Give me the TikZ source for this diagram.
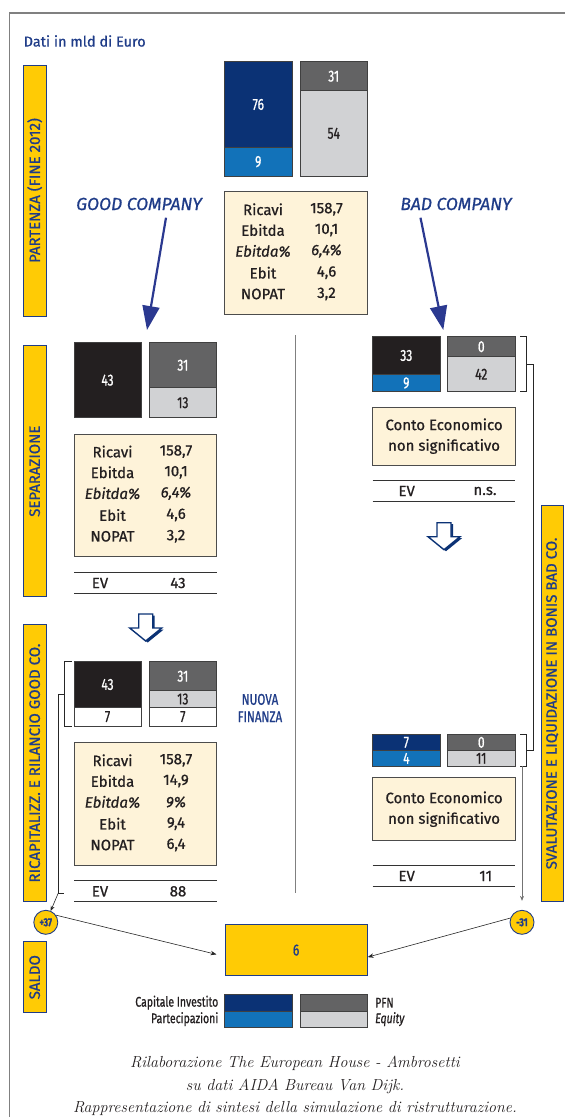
\documentclass[tikz,border=0pt]{standalone}
\usepackage{fontspec}
\setsansfont[FakeBold=0.8]{Fira Sans}
\newfontfamily\condfont[FakeStretch=0.75,FakeBold=0.8]{Fira Sans}
\usetikzlibrary{arrows.meta,positioning}

\definecolor{capinv}{RGB}{11,50,117}
\definecolor{partec}{RGB}{18,114,185}
\definecolor{pfngray}{RGB}{99,99,100}
\definecolor{eqgray}{RGB}{209,210,212}
\definecolor{boxblack}{RGB}{35,31,32}
\definecolor{cream}{RGB}{254,243,217}
\definecolor{phaseyel}{RGB}{255,203,5}
\definecolor{txtblue}{RGB}{31,60,136}
\definecolor{arrblue}{RGB}{43,57,144}
\definecolor{framegray}{RGB}{128,128,128}

\tikzset{
  seg/.style={draw=black!75, line width=0.7pt, inner sep=0pt, outer sep=0pt, anchor=north west,
    text=white, font=\condfont\fontsize{16}{16}\selectfont},
  capbar/.style={seg, fill=capinv},
  partbar/.style={seg, fill=partec},
  pfnbar/.style={seg, fill=pfngray},
  eqbar/.style={seg, fill=eqgray, text=boxblack},
  blackbar/.style={seg, fill=boxblack},
  newbar/.style={seg, fill=white, text=boxblack},
  kpibox/.style={draw=black!70, line width=0.8pt, fill=cream, inner sep=0pt, outer sep=0pt,
    anchor=north west, minimum width=142.7pt},
  kpi/.style={inner sep=0pt, text=boxblack, font=\sffamily\fontsize{15}{16}\selectfont},
  evline/.style={draw=black!80, line width=0.8pt},
  phase/.style={draw=txtblue, line width=0.8pt, fill=phaseyel, rotate=90, inner sep=0pt,
    minimum height=22.5pt, text=txtblue, font=\sffamily\fontsize{15}{15}\selectfont},
  heading/.style={inner sep=0pt, text=txtblue, font=\sffamily\itshape\fontsize{17.5}{17}\selectfont},
  bigarr/.style={arrblue, line width=2.2pt, -{Triangle[length=24pt,width=17pt]}},
  hollowarr/.style={draw=capinv, fill=white, line width=1.4pt, line join=miter},
  lead/.style={draw=black!85, line width=0.6pt},
  saldoball/.style={circle, draw=txtblue, line width=0.9pt, fill=phaseyel, minimum size=24pt, inner sep=0pt,
    text=txtblue, font=\condfont\bfseries\fontsize{11.5}{11}\selectfont},
  legtxt/.style={inner sep=0pt, text=boxblack, font=\condfont\fontsize{14}{14}\selectfont}
}

\newcommand{\kpitable}[7]{%
  \node[kpibox, minimum height=122.5pt] (#1) at (#2) {};
  \node[kpi] (#1r1) at ([shift={(38.5,17.6)}]#1.north west) {Ricavi};
  \node[kpi] (#1r2) at ([shift={(38.5,38.3)}]#1.north west) {Ebitda};
  \node[kpi] (#1r3) at ([shift={(38.5,59.3)}]#1.north west) {\itshape Ebitda\%};
  \node[kpi] (#1r4) at ([shift={(38.5,81)}]#1.north west) {Ebit};
  \node[kpi] (#1r5) at ([shift={(38.5,102.3)}]#1.north west) {NOPAT};
  \node[kpi] (#1v1) at ([shift={(102,17.6)}]#1.north west) {#3};
  \node[kpi] (#1v2) at ([shift={(102,38.3)}]#1.north west) {#4};
  \node[kpi] (#1v3) at ([shift={(102,59.3)}]#1.north west) {\itshape #5};
  \node[kpi] (#1v4) at ([shift={(102,81)}]#1.north west) {#6};
  \node[kpi] (#1v5) at ([shift={(102,102.3)}]#1.north west) {#7};
}

\newcommand{\downblock}[1]{%
  \fill[capinv, shift={(#1)}, xshift=2pt, yshift=-1.5pt] (-7,0) -- (7,0) -- (7,14) -- (16,14) -- (0,27) -- (-16,14) -- (-7,14) -- cycle;
  \draw[hollowarr, shift={(#1)}] (-7,0) -- (7,0) -- (7,14) -- (16,14) -- (0,27) -- (-16,14) -- (-7,14) -- cycle;
}

\begin{document}
\begin{tikzpicture}[x=1pt,y=-1pt]
\useasboundingbox (0,0) rectangle (565,1117);

\draw[framegray, line width=1.2pt] (565,13) -- (9.7,13) -- (9.7,1117);
\node[anchor=west, inner sep=0pt, text=txtblue, font=\sffamily\fontsize{14.5}{15}\selectfont] (unit) at (23.5,41) {Dati in mld di Euro};

\node[phase, minimum width=251pt] (ph1) at (34.7,190.5) {PARTENZA (FINE 2012)};
\node[phase, minimum width=251pt] (ph2) at (34.7,471.2) {SEPARAZIONE};
\node[phase, minimum width=277.4pt] (ph3) at (34.7,763) {RICAPITALIZZ. E RILANCIO GOOD CO.};
\node[phase, minimum width=71pt] (ph4) at (34.7,977.2) {SALDO};
\node[phase, minimum width=396.7pt] (ph5) at (552.2,703.4) {SVALUTAZIONE E LIQUIDAZIONE IN BONIS BAD CO.};

\node[capbar, minimum width=67.5pt, minimum height=85.6pt] (t76) at (224.5,61.7) {76};
\node[partbar, minimum width=67.5pt, minimum height=28.7pt] (t9) at (t76.south west) {9};
\node[pfnbar, minimum width=67.5pt, minimum height=29pt] (t31) at (300,61.7) {31};
\node[eqbar, minimum width=67.5pt, minimum height=85.3pt] (t54) at (t31.south west) {54};
\kpitable{ce0}{224.5,191.7}{158,7}{10,1}{6,4\%}{4,6}{3,2}

\node[heading] (goodlbl) at (139,204) {GOOD COMPANY};
\node[heading] (badlbl) at (456,204) {BAD COMPANY};

\draw[framegray, line width=0.8pt] (295.3,335) -- (295.3,892.7);

\node[blackbar, minimum width=67pt, minimum height=75pt] (g43) at (74,342.7) {43};
\node[pfnbar, minimum width=67.7pt, minimum height=45pt] (g31) at (149,342.7) {31};
\node[eqbar, minimum width=67.7pt, minimum height=30pt] (g13) at (g31.south west) {13};
\kpitable{ce1}{74,434}{158,7}{10,1}{6,4\%}{4,6}{3,2}
\draw[evline] (74,572.7) -- ++(142.7,0) (74,593.3) -- ++(142.7,0);
\node[kpi] (ev1) at (100,583) {EV};
\node[kpi] (ev1v) at (178,583) {43};

\draw[bigarr] ([shift={(27,13.7)}]goodlbl.center) -- ([shift={(6,-12.7)}]g43.north east);

\node[blackbar, minimum width=67.3pt, minimum height=37.6pt] (b33) at (372.7,336.7) {33};
\node[partbar, minimum width=67.3pt, minimum height=17.4pt] (b9) at (b33.south west) {9};
\node[pfnbar, minimum width=68pt, minimum height=20pt] (b0) at (447.3,336.7) {0};
\node[eqbar, minimum width=68pt, minimum height=35pt] (b42) at (b0.south west) {42};
\node[kpibox, minimum height=57.7pt] (bce1) at (372.7,407.3) {};
\node[kpi, align=center, font=\sffamily\fontsize{15}{20.6}\selectfont] (bce1t) at (bce1.center) {Conto Economico\\non significativo};
\draw[evline] (372.7,480.7) -- ++(142.6,0) (372.7,501.7) -- ++(142.6,0);
\node[kpi] (ev2) at (406.7,491) {EV};
\node[kpi] (ev2v) at (485,491) {n.s.};

\draw[bigarr] ([shift={(-35.5,13.7)}]badlbl.center) -- ([shift={(3.3,-6.7)}]b33.north east);

\coordinate (ha1) at (145.7,614);
\coordinate (ha2) at (444,522.7);
\downblock{ha1}
\downblock{ha2}

\node[blackbar, minimum width=67pt, minimum height=45.6pt] (r43) at (74,661.7) {43};
\node[newbar, minimum width=67pt, minimum height=18.7pt] (r7a) at (r43.south west) {7};
\node[pfnbar, minimum width=67.7pt, minimum height=29pt] (r31) at (149,661.7) {31};
\node[eqbar, minimum width=67.7pt, minimum height=16.6pt] (r13) at (r31.south west) {13};
\node[newbar, minimum width=67.7pt, minimum height=18.7pt] (r7b) at (r13.south west) {7};
\node[align=center, inner sep=0pt, text=txtblue, font=\condfont\fontsize{15.5}{17.4}\selectfont] (nf) at (260,708) {NUOVA\\FINANZA};
\kpitable{ce2}{74,742.7}{158,7}{14,9}{9\%}{9,4}{6,4}
\draw[evline] (74,880.7) -- ++(142.7,0) (74,901.7) -- ++(142.7,0);
\node[kpi] (ev3) at (100,891.3) {EV};
\node[kpi] (ev3v) at (178,891.3) {88};

\node[capbar, minimum width=67.3pt, minimum height=16.7pt] (f7) at (372.7,734) {7};
\node[partbar, minimum width=67.3pt, minimum height=15.3pt] (f4) at (f7.south west) {4};
\node[pfnbar, minimum width=68pt, minimum height=16.7pt] (f0) at (447.3,734) {0};
\node[eqbar, minimum width=68pt, minimum height=15.3pt] (f11) at (f0.south west) {11};
\node[kpibox, minimum height=63pt] (bce2) at (372.7,777.7) {};
\node[kpi, align=center, font=\sffamily\fontsize{15}{20.6}\selectfont] (bce2t) at (bce2.center) {Conto Economico\\non significativo};
\draw[evline] (372.7,865.7) -- ++(142.6,0) (372.7,886) -- ++(142.6,0);
\node[kpi] (ev4) at (406.7,876) {EV};
\node[kpi] (ev4v) at (485.7,876) {11};

\node[saldoball] (p37) at (45.8,922.3) {+37};
\node[saldoball] (m31) at (522,922.3) {-31};
\node[draw=txtblue, line width=0.9pt, fill=phaseyel, anchor=north west, minimum width=142.3pt, minimum height=50.7pt,
  inner sep=0pt, text=txtblue, font=\condfont\fontsize{16}{16}\selectfont] (saldo) at (224.5,924.3) {6};

\coordinate (gb) at (64.3,693.8);
\coordinate (gev) at (64.3,893);
\draw[lead] (71.7,661.7) -| (gb) |- (71.7,726);
\draw[lead] (gb) -- ++(-6,0) |- (gev);
\draw[lead, -{Stealth[length=5pt,width=4pt]}] ([xshift=-6pt]gev) -- (p37);

\coordinate (rb1) at (526.7,364.2);
\coordinate (rb2) at (526.7,750);
\coordinate (rb2b) at (522,766);
\draw[lead] (520,336.7) -| (rb1) |- (520,391.7);
\draw[lead] (520,734) -| (rb2) |- (520,766);
\draw[lead] (rb1) -- ++(6.6,0) |- (rb2);
\draw[lead, draw=black!55, -{Stealth[length=5pt,width=4pt]}] (rb2b) -- ([yshift=9pt]m31.north);

\draw[lead, -{Stealth[length=6pt,width=4.5pt]}] (p37.35) -- ([shift={(-8,4.3)}]saldo.west);
\draw[lead, -{Stealth[length=6pt,width=4.5pt]}] (m31.160) -- ([shift={(0,7)}]saldo.east);

\node[capbar, minimum width=67.5pt, minimum height=16.7pt] (lg1) at (224.5,994.3) {};
\node[partbar, minimum width=67.5pt, minimum height=16.3pt] (lg2) at (lg1.south west) {};
\node[pfnbar, minimum width=67.5pt, minimum height=16.7pt] (lg3) at (300,994.3) {};
\node[eqbar, minimum width=67.5pt, minimum height=16.3pt] (lg4) at (lg3.south west) {};
\node[legtxt, left=6pt of lg1] (lg1t) {Capitale Investito};
\node[legtxt, left=6pt of lg2] (lg2t) {Partecipazioni};
\node[legtxt, right=7.5pt of lg3] (lg3t) {PFN};
\node[legtxt, right=7.5pt of lg4] (lg4t) {\itshape Equity};

\node[align=center, inner sep=0pt, text=boxblack, font=\rmfamily\itshape\fontsize{16}{22.2}\selectfont] (src) at (295,1086) {Rilaborazione The European House - Ambrosetti\\su dati AIDA Bureau Van Dijk.\\Rappresentazione di sintesi della simulazione di ristrutturazione.};
\end{tikzpicture}
\end{document}
